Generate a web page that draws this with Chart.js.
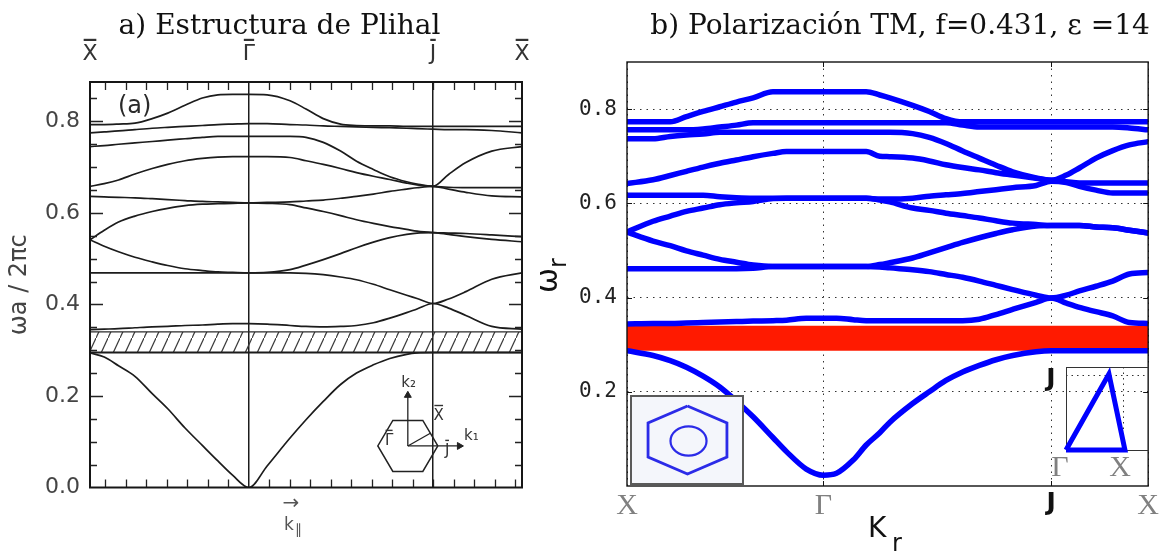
<!DOCTYPE html>
<html>
<head>
<meta charset="utf-8">
<title>Estructura de bandas</title>
<script src="https://cdn.jsdelivr.net/npm/chart.js@4.4.1/dist/chart.umd.min.js"></script>
<style>
  html, body { margin:0; padding:0; background:#ffffff; }
  #page { position:relative; width:1161px; height:552px; overflow:hidden; background:#fff; }
  #page canvas { position:absolute; }
  #cA { left:0; top:0; }
  #cB { left:530px; top:0; }
  #cK { left:340px; top:360px; }
  #hexBox { position:absolute; left:630px; top:395px; width:110px; height:86px; border:2px solid #5a5a5a; background:#f4f6fb; }
  #cH { left:0; top:0; }
  #cT { left:1040px; top:360px; }
</style>
</head>
<body>
<div id="page">
  <canvas id="cA" width="530" height="552"></canvas>
  <canvas id="cB" width="631" height="552"></canvas>
  <canvas id="cK" width="160" height="125"></canvas>
  <div id="hexBox"><canvas id="cH" width="110" height="86"></canvas></div>
  <canvas id="cT" width="120" height="125"></canvas>
</div>
<script>
// ================= Panel (a): Plihal structure =================
const kA  = [0,0.033,0.066,0.104,0.144,0.18,0.22,0.26,0.296,0.33,0.368,0.41,0.463,0.5,0.54,0.58,0.617,0.656,0.694,0.733,0.757,0.794,0.83,0.87,0.93,1];
const a1  = [0.294,0.285,0.266,0.243,0.205,0.172,0.13,0.092,0.058,0.027,0,0.047,0.108,0.148,0.188,0.225,0.25,0.268,0.282,0.291,0.294,0.295,0.295,0.295,0.295,0.295];
const a2  = [0.345,0.346,0.347,0.349,0.351,0.352,0.354,0.355,0.357,0.358,0.358,0.357,0.354,0.352,0.351,0.352,0.354,0.36,0.37,0.382,0.39,0.402,0.392,0.376,0.352,0.346];
const a3  = [0.469,0.469,0.469,0.469,0.469,0.469,0.469,0.469,0.469,0.469,0.469,0.469,0.469,0.468,0.465,0.46,0.454,0.444,0.432,0.42,0.413,0.402,0.412,0.428,0.455,0.469];
const a4  = [0.541,0.527,0.515,0.503,0.493,0.485,0.478,0.474,0.471,0.47,0.469,0.47,0.476,0.486,0.498,0.511,0.524,0.536,0.546,0.553,0.556,0.557,0.553,0.548,0.542,0.537];
const a5  = [0.541,0.562,0.58,0.593,0.603,0.61,0.616,0.619,0.62,0.621,0.622,0.621,0.618,0.611,0.603,0.594,0.585,0.577,0.57,0.564,0.56,0.557,0.556,0.555,0.552,0.548];
const a6  = [0.636,0.635,0.634,0.633,0.631,0.629,0.627,0.625,0.624,0.623,0.622,0.623,0.624,0.626,0.628,0.632,0.636,0.641,0.647,0.652,0.655,0.658,0.652,0.645,0.637,0.635];
const a7  = [0.658,0.664,0.672,0.685,0.697,0.706,0.714,0.719,0.722,0.723,0.723,0.723,0.721,0.714,0.706,0.697,0.688,0.68,0.673,0.665,0.661,0.658,0.656,0.655,0.655,0.655];
const a8  = [0.745,0.747,0.75,0.753,0.756,0.759,0.762,0.765,0.767,0.767,0.767,0.767,0.767,0.765,0.754,0.735,0.713,0.695,0.679,0.668,0.663,0.658,0.684,0.71,0.735,0.745];
const a9  = [0.775,0.777,0.779,0.782,0.785,0.787,0.789,0.791,0.793,0.794,0.795,0.795,0.793,0.792,0.79,0.789,0.788,0.787,0.786,0.785,0.784,0.783,0.782,0.782,0.78,0.775];
const a10 = [0.793,0.793,0.794,0.796,0.806,0.818,0.835,0.851,0.858,0.859,0.859,0.858,0.845,0.827,0.806,0.794,0.791,0.79,0.79,0.789,0.789,0.789,0.789,0.789,0.789,0.789];
const bandsA  = [a1,a2,a3,a4,a5,a6,a7,a8,a9,a10];
const symPosA = [0, 0.368, 0.794, 1];
const symLabA = ['X','\u0393','J','X'];   // drawn with an overbar
const yTicksA = [0, 0.2, 0.4, 0.6, 0.8];
const gapA    = [0.295, 0.34];

// ================= Panel (b): TM polarization =================
const kB  = [0,0.05,0.083,0.114,0.146,0.178,0.21,0.242,0.28,0.306,0.344,0.377,0.402,0.434,0.459,0.485,0.504,0.548,0.58,0.612,0.644,0.676,0.708,0.74,0.785,0.814,0.843,0.868,0.9,0.932,0.964,1];
const r1  = [0.287,0.277,0.266,0.252,0.233,0.21,0.18,0.147,0.103,0.073,0.036,0.023,0.027,0.055,0.087,0.113,0.135,0.175,0.2,0.224,0.242,0.256,0.268,0.277,0.285,0.287,0.287,0.287,0.287,0.287,0.287,0.287];
const r2  = [0.344,0.345,0.345,0.346,0.347,0.348,0.349,0.35,0.351,0.352,0.356,0.356,0.356,0.353,0.351,0.351,0.351,0.351,0.351,0.351,0.351,0.354,0.364,0.375,0.39,0.399,0.388,0.379,0.37,0.361,0.347,0.345];
const r3  = [0.461,0.461,0.461,0.461,0.461,0.461,0.461,0.462,0.466,0.466,0.466,0.466,0.466,0.466,0.466,0.465,0.463,0.459,0.455,0.449,0.443,0.435,0.426,0.417,0.405,0.399,0.405,0.414,0.424,0.435,0.45,0.453];
const r4  = [0.539,0.52,0.51,0.499,0.49,0.481,0.475,0.469,0.466,0.466,0.466,0.466,0.466,0.466,0.466,0.47,0.474,0.484,0.495,0.506,0.517,0.527,0.536,0.544,0.552,0.553,0.553,0.553,0.55,0.548,0.543,0.537];
const r5  = [0.539,0.562,0.573,0.583,0.59,0.597,0.601,0.604,0.61,0.611,0.611,0.611,0.611,0.611,0.611,0.607,0.603,0.59,0.585,0.579,0.574,0.569,0.563,0.558,0.555,0.553,0.553,0.553,0.55,0.548,0.543,0.537];
const r6  = [0.617,0.617,0.617,0.617,0.617,0.614,0.612,0.611,0.611,0.611,0.611,0.611,0.611,0.611,0.611,0.609,0.609,0.611,0.615,0.618,0.621,0.625,0.629,0.633,0.638,0.647,0.644,0.636,0.628,0.622,0.622,0.622];
const r7  = [0.642,0.65,0.659,0.668,0.677,0.685,0.692,0.699,0.706,0.71,0.71,0.71,0.71,0.71,0.71,0.7,0.699,0.696,0.69,0.682,0.676,0.671,0.665,0.66,0.653,0.649,0.646,0.643,0.643,0.643,0.643,0.643];
const r8  = [0.737,0.737,0.742,0.745,0.747,0.751,0.751,0.751,0.751,0.751,0.751,0.751,0.751,0.751,0.751,0.751,0.751,0.748,0.74,0.727,0.711,0.696,0.681,0.667,0.654,0.649,0.66,0.675,0.696,0.712,0.724,0.731];
const r9  = [0.756,0.756,0.756,0.756,0.758,0.762,0.766,0.771,0.771,0.771,0.771,0.771,0.771,0.771,0.771,0.771,0.771,0.771,0.771,0.771,0.766,0.762,0.762,0.762,0.762,0.762,0.762,0.762,0.762,0.762,0.76,0.756];
const r10 = [0.773,0.773,0.773,0.784,0.795,0.805,0.815,0.824,0.837,0.837,0.837,0.837,0.837,0.837,0.837,0.83,0.824,0.808,0.795,0.78,0.773,0.773,0.773,0.773,0.773,0.773,0.773,0.773,0.773,0.773,0.773,0.773];
const bandsB  = [r1,r2,r3,r4,r5,r6,r7,r8,r9,r10];
const symPosB = [0, 0.377, 0.814, 1];
const symLabB = ['X','\u0393','J','X'];
const yTicksB = [0.2, 0.4, 0.6, 0.8];
const gapB    = [0.287, 0.34];

// ================= Insets =================
const hexAX = [1,0.5,-0.5,-1,-0.5,0.5,1];
const hexAY = [0,0.866,0.866,0,-0.866,-0.866,0];
const axK1X = [0,1.72], axK1Y = [0,0];
const axK2X = [0,0],    axK2Y = [0,1.72];
const dirXX = [0,0.75], dirXY = [0,0.433];
const hexBX = [0,1.16,1.16,0,-1.16,-1.16,0];
const hexBY = [1,0.5,-0.5,-1,-0.5,0.5,1];
const ringB = {x:0.03, y:-0.03, rx:0.53, ry:0.43};
const triX  = [0,1.035,0.754,0];
const triY  = [0,0,1.013,0];

const pts = (xs, ys) => xs.map((x, i) => ({x: x, y: ys[i]}));

const base = {
  responsive:false, animation:false, devicePixelRatio:1, events:[],
  plugins:{legend:{display:false}, tooltip:{enabled:false}, title:{display:false}}
};

function makeHatch(ctx){
  const c = document.createElement('canvas'); c.width = 12; c.height = 26;
  const g = c.getContext('2d');
  g.strokeStyle = '#3a3a3a'; g.lineWidth = 1.2;
  g.beginPath(); g.moveTo(-1, 28.17); g.lineTo(13, -2.17); g.stroke();
  return ctx.createPattern(c, 'repeat');
}

// text with an overbar
function barText(ctx, t, x, y, barGap, barW){
  ctx.fillText(t, x, y);
  const m = ctx.measureText(t);
  let left = x;
  if (ctx.textAlign === 'center') left = x - m.width / 2;
  else if (ctx.textAlign === 'right') left = x - m.width;
  const top = y - m.actualBoundingBoxAscent - barGap;
  ctx.fillRect(left + m.width * 0.08, top - barW, m.width * 0.84, barW);
}

// ---------- decorations panel a ----------
const decorA = {
  id:'decorA',
  afterDraw(chart){
    const {ctx, chartArea:ca} = chart, sx = chart.scales.x, sy = chart.scales.y, sTop = chart.scales.x2;
    ctx.save();
    ctx.strokeStyle = '#222'; ctx.lineWidth = 1.3;
    ctx.beginPath();
    for (let i = 1; i * 0.05 < sy.max; i++) {
      const len = (i % 4 === 0) ? 13 : 7;
      const p = Math.round(sy.getPixelForValue(i * 0.05)) + 0.5;
      ctx.moveTo(ca.left, p); ctx.lineTo(ca.left + len, p);
      ctx.moveTo(ca.right, p); ctx.lineTo(ca.right - len, p);
    }
    const step = 0.04745;
    for (let i = -7; i <= 13; i++) {
      if (i === 0) continue;
      const v = symPosA[1] + i * step;
      if (v <= 0.01 || v >= 0.99) continue;
      const p = Math.round(sx.getPixelForValue(v)) + 0.5;
      ctx.moveTo(p, ca.top); ctx.lineTo(p, ca.top + 8);
      ctx.moveTo(p, ca.bottom); ctx.lineTo(p, ca.bottom - 8);
    }
    ctx.stroke();
    ctx.lineWidth = 2; ctx.strokeStyle = '#161616';
    ctx.strokeRect(ca.left, ca.top, ca.width, ca.height);
    // symmetry-point labels on top, with overbars
    ctx.fillStyle = '#333'; ctx.font = '22px "DejaVu Sans"'; ctx.textAlign = 'center'; ctx.textBaseline = 'alphabetic';
    symPosA.forEach((v, i) => barText(ctx, symLabA[i], sTop.getPixelForValue(v), 60, 3, 2.2));
    // titles and annotations
    ctx.fillStyle = '#111'; ctx.font = '28px "DejaVu Serif"'; ctx.textAlign = 'center';
    ctx.fillText('a) Estructura de Plihal', 279.5, 34);
    ctx.fillStyle = '#2a2a2a'; ctx.font = '24px "DejaVu Sans"'; ctx.textAlign = 'left';
    ctx.fillText('(a)', ca.left + 28, ca.top + 31);
    ctx.fillStyle = '#555'; ctx.textAlign = 'center'; ctx.font = '20px "DejaVu Sans"';
    ctx.fillText('\u2192', 291, 509);
    ctx.textAlign = 'left'; ctx.font = '17px "DejaVu Sans"'; ctx.fillText('k', 284, 530);
    ctx.font = '14px "DejaVu Sans"'; ctx.fillText('\u2225', 295, 534);
    ctx.restore();
  }
};

const ctxA = document.getElementById('cA').getContext('2d');
const hatch = makeHatch(ctxA);
const lineA = ys => ({data: pts(kA, ys), borderColor:'#1c1c1c', borderWidth:1.7, pointRadius:0,
  cubicInterpolationMode:'monotone', fill:false, order:1});
new Chart(ctxA, {
  type:'line',
  data:{datasets:[
    {data: pts([0,1],[gapA[1],gapA[1]]), borderColor:'#2a2a2a', borderWidth:1.3, backgroundColor:hatch,
     fill:{value:gapA[0]}, pointRadius:0, order:3},
    {data: pts([0,1],[gapA[0],gapA[0]]), borderColor:'#1c1c1c', borderWidth:2, pointRadius:0, fill:false, order:2}
  ].concat(bandsA.map(lineA))},
  options:Object.assign({}, base, {
    layout:{padding:{left:0, right:8, top:0, bottom:0}},
    scales:{
      x:{type:'linear', min:0, max:1, position:'bottom',
         afterBuildTicks:s => { s.ticks = [symPosA[1], symPosA[2]].map(v => ({value:v})); },
         ticks:{display:false}, grid:{color:'#1c1c1c', lineWidth:1.5, drawTicks:false}, border:{display:false},
         afterFit:s => { s.height = 64.5; }},
      x2:{type:'linear', axis:'x', min:0, max:1, position:'top',
         afterBuildTicks:s => { s.ticks = symPosA.map(v => ({value:v})); },
         ticks:{display:false},
         grid:{display:false, drawTicks:false}, border:{display:false},
         afterFit:s => { s.height = 82; }},
      y:{type:'linear', min:0, max:0.886,
         afterBuildTicks:s => { s.ticks = yTicksA.map(v => ({value:v})); },
         ticks:{callback:v => Number(v).toFixed(1), padding:10, font:{family:'DejaVu Sans', size:22}, color:'#444'},
         grid:{display:false, drawTicks:false}, border:{display:false},
         title:{display:true, text:'\u03c9a / 2\u03c0c', font:{family:'DejaVu Sans', size:24}, color:'#444', padding:{top:5, bottom:0}},
         afterFit:s => { s.width = 90; }}
    }
  }),
  plugins:[decorA]
});

// ---------- panel b ----------
const decorB = {
  id:'decorB',
  afterDraw(chart){
    const {ctx, chartArea:ca} = chart, sx = chart.scales.x, sy = chart.scales.y;
    ctx.save();
    ctx.strokeStyle = '#111'; ctx.lineWidth = 1;
    ctx.beginPath();
    for (const v of yTicksB) {
      const p = Math.round(sy.getPixelForValue(v)) + 0.5;
      ctx.moveTo(ca.left, p); ctx.lineTo(ca.left + 5, p);
      ctx.moveTo(ca.right, p); ctx.lineTo(ca.right - 5, p);
    }
    for (const v of [symPosB[1], symPosB[2]]) {
      const p = Math.round(sx.getPixelForValue(v)) + 0.5;
      ctx.moveTo(p, ca.top); ctx.lineTo(p, ca.top + 5);
      ctx.moveTo(p, ca.bottom); ctx.lineTo(p, ca.bottom - 5);
    }
    ctx.stroke();
    ctx.lineWidth = 1.4; ctx.strokeRect(ca.left, ca.top, ca.width, ca.height);
    ctx.fillStyle = '#111'; ctx.font = '28px "DejaVu Serif"'; ctx.textAlign = 'center'; ctx.textBaseline = 'alphabetic';
    ctx.fillText('b) Polarizaci\u00f3n TM, f=0.431, \u03b5 =14', 370, 34);
    ctx.textAlign = 'left'; ctx.font = '28px "DejaVu Sans"'; ctx.fillText('K', 338, 537);
    ctx.font = '24px "DejaVu Sans"'; ctx.fillText('r', 362, 551);
    ctx.translate(27, 293); ctx.rotate(-Math.PI / 2);
    ctx.font = '30px "DejaVu Sans"'; ctx.fillText('\u03c9', 0, 0);
    const w = ctx.measureText('\u03c9').width;
    ctx.font = '24px "DejaVu Sans"'; ctx.fillText('r', w, 9);
    ctx.restore();
  }
};

const lineB = ys => ({data: pts(kB, ys), borderColor:'#0000ff', borderWidth:5.5, pointRadius:0,
  cubicInterpolationMode:'monotone', borderCapStyle:'round', borderJoinStyle:'round', fill:false, order:1});
new Chart(document.getElementById('cB'), {
  type:'line',
  data:{datasets:[
    {data: pts([0,1],[gapB[1],gapB[1]]), borderWidth:0, borderColor:'rgba(0,0,0,0)', backgroundColor:'rgb(255,26,0)',
     fill:{value:gapB[0]}, pointRadius:0, order:3}
  ].concat(bandsB.map(lineB))},
  options:Object.assign({}, base, {
    layout:{padding:{left:0, right:12, top:62, bottom:0}},
    scales:{
      x:{type:'linear', min:0, max:1,
         afterBuildTicks:s => { s.ticks = symPosB.map(v => ({value:v})); },
         ticks:{callback:(v,i) => symLabB[i], autoSkip:false, maxRotation:0, padding:2,
                font:c => c.index === 2 ? {family:'DejaVu Sans', size:25, weight:'bold'} : {family:'Liberation Serif', size:30},
                color:c => c.index === 2 ? '#111' : '#808080'},
         grid:{color:'#333', lineWidth:1, drawTicks:false}, border:{display:false, dash:[1.5,5]},
         afterFit:s => { s.height = 66; }},
      y:{type:'linear', min:0, max:0.9,
         afterBuildTicks:s => { s.ticks = yTicksB.map(v => ({value:v})); },
         ticks:{callback:v => Number(v).toFixed(1), padding:10, font:{family:'DejaVu Sans Mono', size:21}, color:'#222'},
         grid:{color:'#333', lineWidth:1, drawTicks:false}, border:{display:false, dash:[1.5,5]},
         afterFit:s => { s.width = 97; }}
    }
  }),
  plugins:[decorB]
});

// ---------- inset: k-space hexagon (panel a) ----------
const kLabels = [
  {t:'k\u2082', x:-0.22, y:2.0,  a:'left',   bar:false},
  {t:'k\u2081', x:1.875, y:0.19, a:'left',   bar:false},
  {t:'X',       x:1.03,  y:0.875, a:'center', bar:true},
  {t:'\u0393',  x:-0.625, y:0.03, a:'center', bar:true},
  {t:'J',       x:1.31,  y:-0.31, a:'center', bar:true}
];
const kLabelPlugin = {
  id:'kLabelPlugin',
  afterDraw(chart){
    const {ctx} = chart, sx = chart.scales.x, sy = chart.scales.y;
    ctx.save(); ctx.fillStyle = '#333'; ctx.font = '15px "DejaVu Sans"'; ctx.textBaseline = 'alphabetic';
    for (const l of kLabels) {
      ctx.textAlign = l.a;
      const px = sx.getPixelForValue(l.x), py = sy.getPixelForValue(l.y);
      if (l.bar) barText(ctx, l.t, px, py, 2, 1.4); else ctx.fillText(l.t, px, py);
    }
    ctx.restore();
  }
};
const arrowDs = (xs, ys, rot) => ({data: pts(xs, ys), borderColor:'#222', borderWidth:1.3, pointRadius:[0,4],
  pointStyle:'triangle', pointRotation:rot, pointBackgroundColor:'#222', pointBorderColor:'#222', pointBorderWidth:1, tension:0});
new Chart(document.getElementById('cK'), {
  type:'line',
  data:{datasets:[
    {data: pts(hexAX, hexAY), borderColor:'#222', borderWidth:1.5, pointRadius:0, tension:0},
    arrowDs(axK1X, axK1Y, 90),
    arrowDs(axK2X, axK2Y, 0),
    {data: pts(dirXX, dirXY), borderColor:'#222', borderWidth:1.3, pointRadius:0, tension:0}
  ]},
  options:Object.assign({}, base, {
    layout:{padding:0},
    scales:{x:{type:'linear', display:false, min:-2.094, max:2.906}, y:{display:false, min:-1.156, max:2.75}}
  }),
  plugins:[kLabelPlugin]
});

// ---------- inset: hexagon + ring (panel b) ----------
const ringPlugin = {
  id:'ringPlugin',
  afterDatasetsDraw(chart){
    const {ctx} = chart, sx = chart.scales.x, sy = chart.scales.y;
    const cx = sx.getPixelForValue(ringB.x), cy = sy.getPixelForValue(ringB.y);
    const rx = Math.abs(sx.getPixelForValue(ringB.rx) - sx.getPixelForValue(0));
    const ry = Math.abs(sy.getPixelForValue(ringB.ry) - sy.getPixelForValue(0));
    ctx.save(); ctx.strokeStyle = '#2b2be8'; ctx.lineWidth = 2.2;
    ctx.beginPath(); ctx.ellipse(cx, cy, rx, ry, 0, 0, Math.PI * 2); ctx.stroke(); ctx.restore();
  }
};
new Chart(document.getElementById('cH'), {
  type:'line',
  data:{datasets:[{data: pts(hexBX, hexBY), borderColor:'#2b2be8', borderWidth:2.8, pointRadius:0, tension:0, fill:false}]},
  options:Object.assign({}, base, {
    layout:{padding:0},
    scales:{x:{type:'linear', display:false, min:-1.632, max:1.603}, y:{display:false, min:-1.265, max:1.265}}
  }),
  plugins:[ringPlugin]
});

// ---------- inset: irreducible zone triangle (panel b) ----------
const triDecor = {
  id:'triDecor',
  beforeDatasetsDraw(chart){
    const {ctx, chartArea:ca} = chart, sx = chart.scales.x, sy = chart.scales.y;
    ctx.save();
    ctx.strokeStyle = '#333'; ctx.lineWidth = 1; ctx.setLineDash([1.5, 4]);
    const py = Math.round(sy.getPixelForValue(1)) + 0.5, px = Math.round(sx.getPixelForValue(1)) + 0.5;
    ctx.beginPath(); ctx.moveTo(ca.left, py); ctx.lineTo(ca.right, py); ctx.moveTo(px, ca.top); ctx.lineTo(px, ca.bottom); ctx.stroke();
    ctx.setLineDash([]);
    ctx.strokeStyle = '#333';
    ctx.strokeRect(Math.round(ca.left) + 0.5, Math.round(ca.top) + 0.5, Math.round(ca.width), Math.round(ca.height));
    ctx.restore();
  },
  afterDraw(chart){
    const {ctx} = chart;
    ctx.save(); ctx.textAlign = 'center'; ctx.textBaseline = 'middle';
    ctx.fillStyle = '#111'; ctx.font = 'bold 25px "DejaVu Sans"'; ctx.fillText('J', 11, 19);
    ctx.fillStyle = '#808080'; ctx.font = '30px "Liberation Serif"';
    ctx.fillText('\u0393', 20, 108); ctx.fillText('X', 80, 108);
    ctx.restore();
  }
};
new Chart(document.getElementById('cT'), {
  type:'line',
  data:{datasets:[{data: pts(triX, triY), borderColor:'#0000ff', borderWidth:5, pointRadius:0, tension:0, fill:false, clip:false}]},
  options:Object.assign({}, base, {
    layout:{padding:{left:26, top:7, right:12, bottom:35}},
    scales:{x:{type:'linear', display:false, min:0, max:1.44}, y:{display:false, min:0, max:1.107}}
  }),
  plugins:[triDecor]
});
</script>
</body>
</html>
